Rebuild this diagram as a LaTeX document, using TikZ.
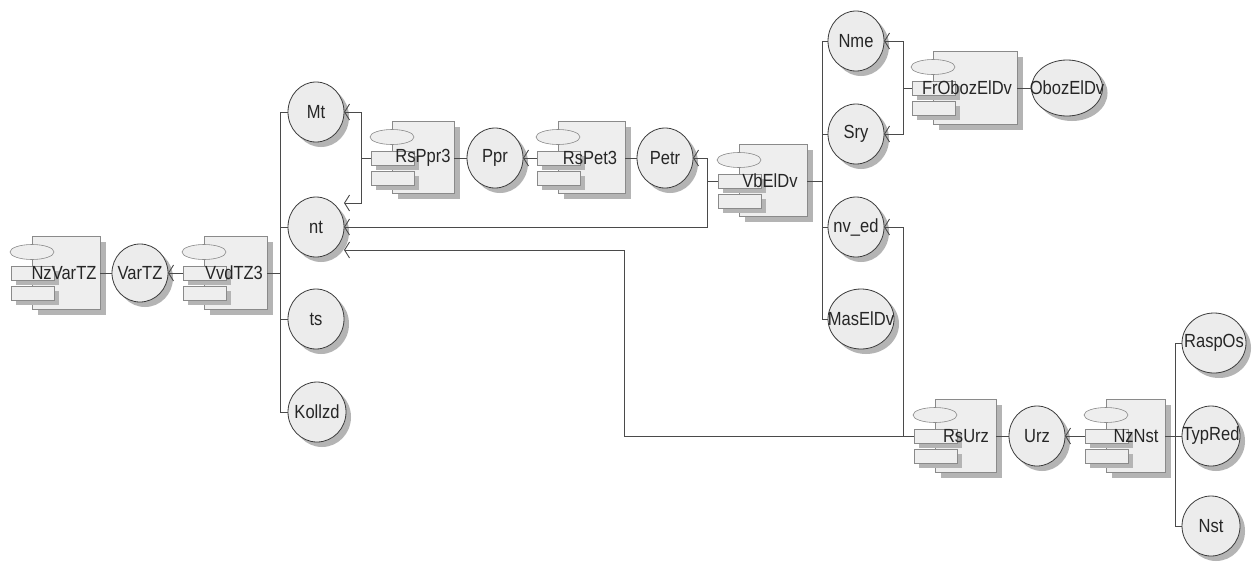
\documentclass[tikz,border=0pt]{standalone}
\usepackage{fontspec}
\setmainfont[FakeStretch=0.87]{Liberation Sans}
\usetikzlibrary{arrows.meta,calc,shapes.geometric}
\definecolor{ln}{HTML}{4A4A4A}
\definecolor{bx}{HTML}{EEEEEE}
\definecolor{sh}{HTML}{B4B4B4}
\definecolor{bd}{HTML}{8A8A8A}
\definecolor{cf}{HTML}{ECECEC}
\definecolor{cb}{HTML}{3C3C3C}
\tikzset{
  wire/.style={draw=ln, line width=0.9pt},
  arr/.style={wire, -{Straight Barb[length=5pt,width=16pt,line width=0.9pt]}},
  mainbox/.style={draw=bd, fill=bx, line width=0.6pt, inner sep=0pt, outer sep=0pt},
  smallbox/.style={draw=bd, fill=bx, line width=0.6pt, inner sep=0pt, outer sep=0pt, minimum width=43pt, minimum height=14pt},
  compell/.style={ellipse, draw=bd, fill=bx, line width=0.6pt, inner sep=0pt, minimum width=44pt, minimum height=15pt},
  circ/.style={ellipse, draw=cb, fill=cf, line width=0.8pt, inner sep=0pt, outer sep=0pt},
  circsh/.style={ellipse, fill=sh, inner sep=0pt},
  lbl/.style={font=\fontsize{19pt}{22pt}\selectfont, inner sep=0pt, text=black!85},
}
% name, X, Y, W, H, text x, text y, label
\newcommand\mycomp[8]{%
  \fill[sh] (#2+6,#3+6) rectangle ++(#4,#5);
  \node[mainbox, minimum width=#4pt, minimum height=#5pt, anchor=north west] (#1) at (#2,#3) {};
  \fill[sh] (#2-16,#3+35) rectangle ++(43,14);
  \fill[sh] (#2-16,#3+55) rectangle ++(43,14);
  \node[smallbox, anchor=north west] (#1a) at (#2-21,#3+30) {};
  \node[smallbox, anchor=north west] (#1b) at (#2-21,#3+50) {};
  \node[compell] (#1e) at (#2,#3+16) {};
  \node[lbl] (#1t) at (#6,#7) {#8};
}
% name, x, y, w, h, label
\newcommand\mycirc[6]{%
  \node[circsh, minimum width=#4pt, minimum height=#5pt] (#1s) at (#2+5,#3+5) {};
  \node[circ, minimum width=#4pt, minimum height=#5pt] (#1) at (#2,#3) {};
  \node[lbl] (#1l) at (#1.center) {#6};
}
\begin{document}
\begin{tikzpicture}[x=1pt,y=-1pt]
\useasboundingbox[fill=white] (0,0) rectangle (1252,563);

% components
\mycomp{cA}{32}{236}{68}{73}{64}{273}{NzVarTZ}
\mycomp{cB}{204}{236}{63}{73}{234}{273}{VvdTZ3}
\mycomp{cC}{392}{121}{62}{72}{423}{158}{RsPpr3}
\mycomp{cD}{558}{121}{67}{72}{590}{158}{RsPet3}
\mycomp{cE}{739}{144}{68}{72}{770}{181}{VbElDv}
\mycomp{cF}{933}{51}{84}{73}{967}{88}{FrObozElDv}
\mycomp{cG}{935}{399}{61}{73}{966}{436}{RsUrz}
\mycomp{cH}{1106}{399}{59}{73}{1136}{436}{NzNst}

% circles
\mycirc{VarTZ}{140}{273}{56}{58}{VarTZ}
\mycirc{Mt}{316}{112}{56}{60}{Mt}
\mycirc{nt}{316}{227}{56}{60}{nt}
\mycirc{ts}{316}{319}{56}{60}{ts}
\mycirc{Kollzd}{317}{412}{58}{60}{Kollzd}
\mycirc{Ppr}{495}{158}{56}{60}{Ppr}
\mycirc{Petr}{665}{158}{56}{60}{Petr}
\mycirc{Nme}{856}{41}{56}{60}{Nme}
\mycirc{Sry}{856}{134}{56}{60}{Sry}
\mycirc{nved}{856}{227}{56}{60}{nv\_ed}
\mycirc{MasElDv}{861}{319}{66}{60}{MasElDv}
\mycirc{ObozElDv}{1067}{88}{71}{56}{ObozElDv}
\mycirc{Urz}{1037}{436}{56}{60}{Urz}
\mycirc{RaspOs}{1214}{343}{64}{60}{RaspOs}
\mycirc{TypRed}{1211}{436}{58}{60}{TypRed}
\mycirc{Nst}{1211}{526}{58}{60}{Nst}

% left group
\draw[wire] (cA.east |- cAa.center) -- (VarTZ.west);
\draw[arr] (cBa.west) -- (VarTZ.east);
\coordinate (busL) at ($(Mt.west)+(-8,0)$);
\draw[wire] (cB.east |- cBa.center) -- (busL |- cBa.center);
\draw[wire] (Mt.west) -- (busL) |- (Kollzd.west);
\draw[wire] (nt.west) -- (busL |- nt.west);
\draw[wire] (ts.west) -- (busL |- ts.west);

% RsPpr3
\coordinate (j1) at ($(cCa.west)+(-10,0)$);
\coordinate (ntA) at ($(nt.east)+(0,-24)$);
\draw[wire] (cCa.west) -- (j1);
\draw[arr] (j1) |- (Mt.east);
\draw[arr] (j1) |- (ntA);
\draw[wire] (cC.east |- cCa.center) -- (Ppr.west);
\draw[arr] (cDa.west) -- (Ppr.east);
\draw[wire] (cD.east |- cDa.center) -- (Petr.west);

% VbElDv
\coordinate (j2) at ($(cEa.west)+(-11,0)$);
\draw[wire] (cEa.west) -- (j2);
\draw[arr] (j2) |- (Petr.east);
\draw[arr] (j2) |- (nt.east);
\coordinate (busM) at ($(Nme.west)+(-6,0)$);
\draw[wire] (cE.east |- cEa.center) -- (busM |- cEa.center);
\draw[wire] (Nme.west) -- (busM) |- (MasElDv.west);
\draw[wire] (Sry.west) -- (busM |- Sry.west);
\draw[wire] (nved.west) -- (busM |- nved.west);

% FrObozElDv
\coordinate (j3) at ($(cFa.west)+(-9,0)$);
\draw[wire] (cFa.west) -- (j3);
\draw[arr] (j3) |- (Nme.east);
\draw[arr] (j3) |- (Sry.east);
\draw[wire] (cF.east |- cFa.center) -- (ObozElDv.west);

% RsUrz
\coordinate (j4) at ($(cGa.west)+(-11,0)$);
\coordinate (j5) at ($(j4)+(-279,0)$);
\coordinate (ntB) at ($(nt.east)+(0,23)$);
\draw[wire] (cGa.west) -- (j4);
\draw[arr] (j4) |- (nved.east);
\draw[arr] (j4) -- (j5) |- (ntB);
\draw[wire] (cG.east |- cGa.center) -- (Urz.west);
\draw[arr] (cHa.west) -- (Urz.east);
\coordinate (busR) at ($(RaspOs.west)+(-7,0)$);
\draw[wire] (cH.east |- cHa.center) -- (busR |- cHa.center);
\draw[wire] (RaspOs.west) -- (busR) |- (Nst.west);
\draw[wire] (TypRed.west) -- (busR |- TypRed.west);
\end{tikzpicture}
\end{document}
